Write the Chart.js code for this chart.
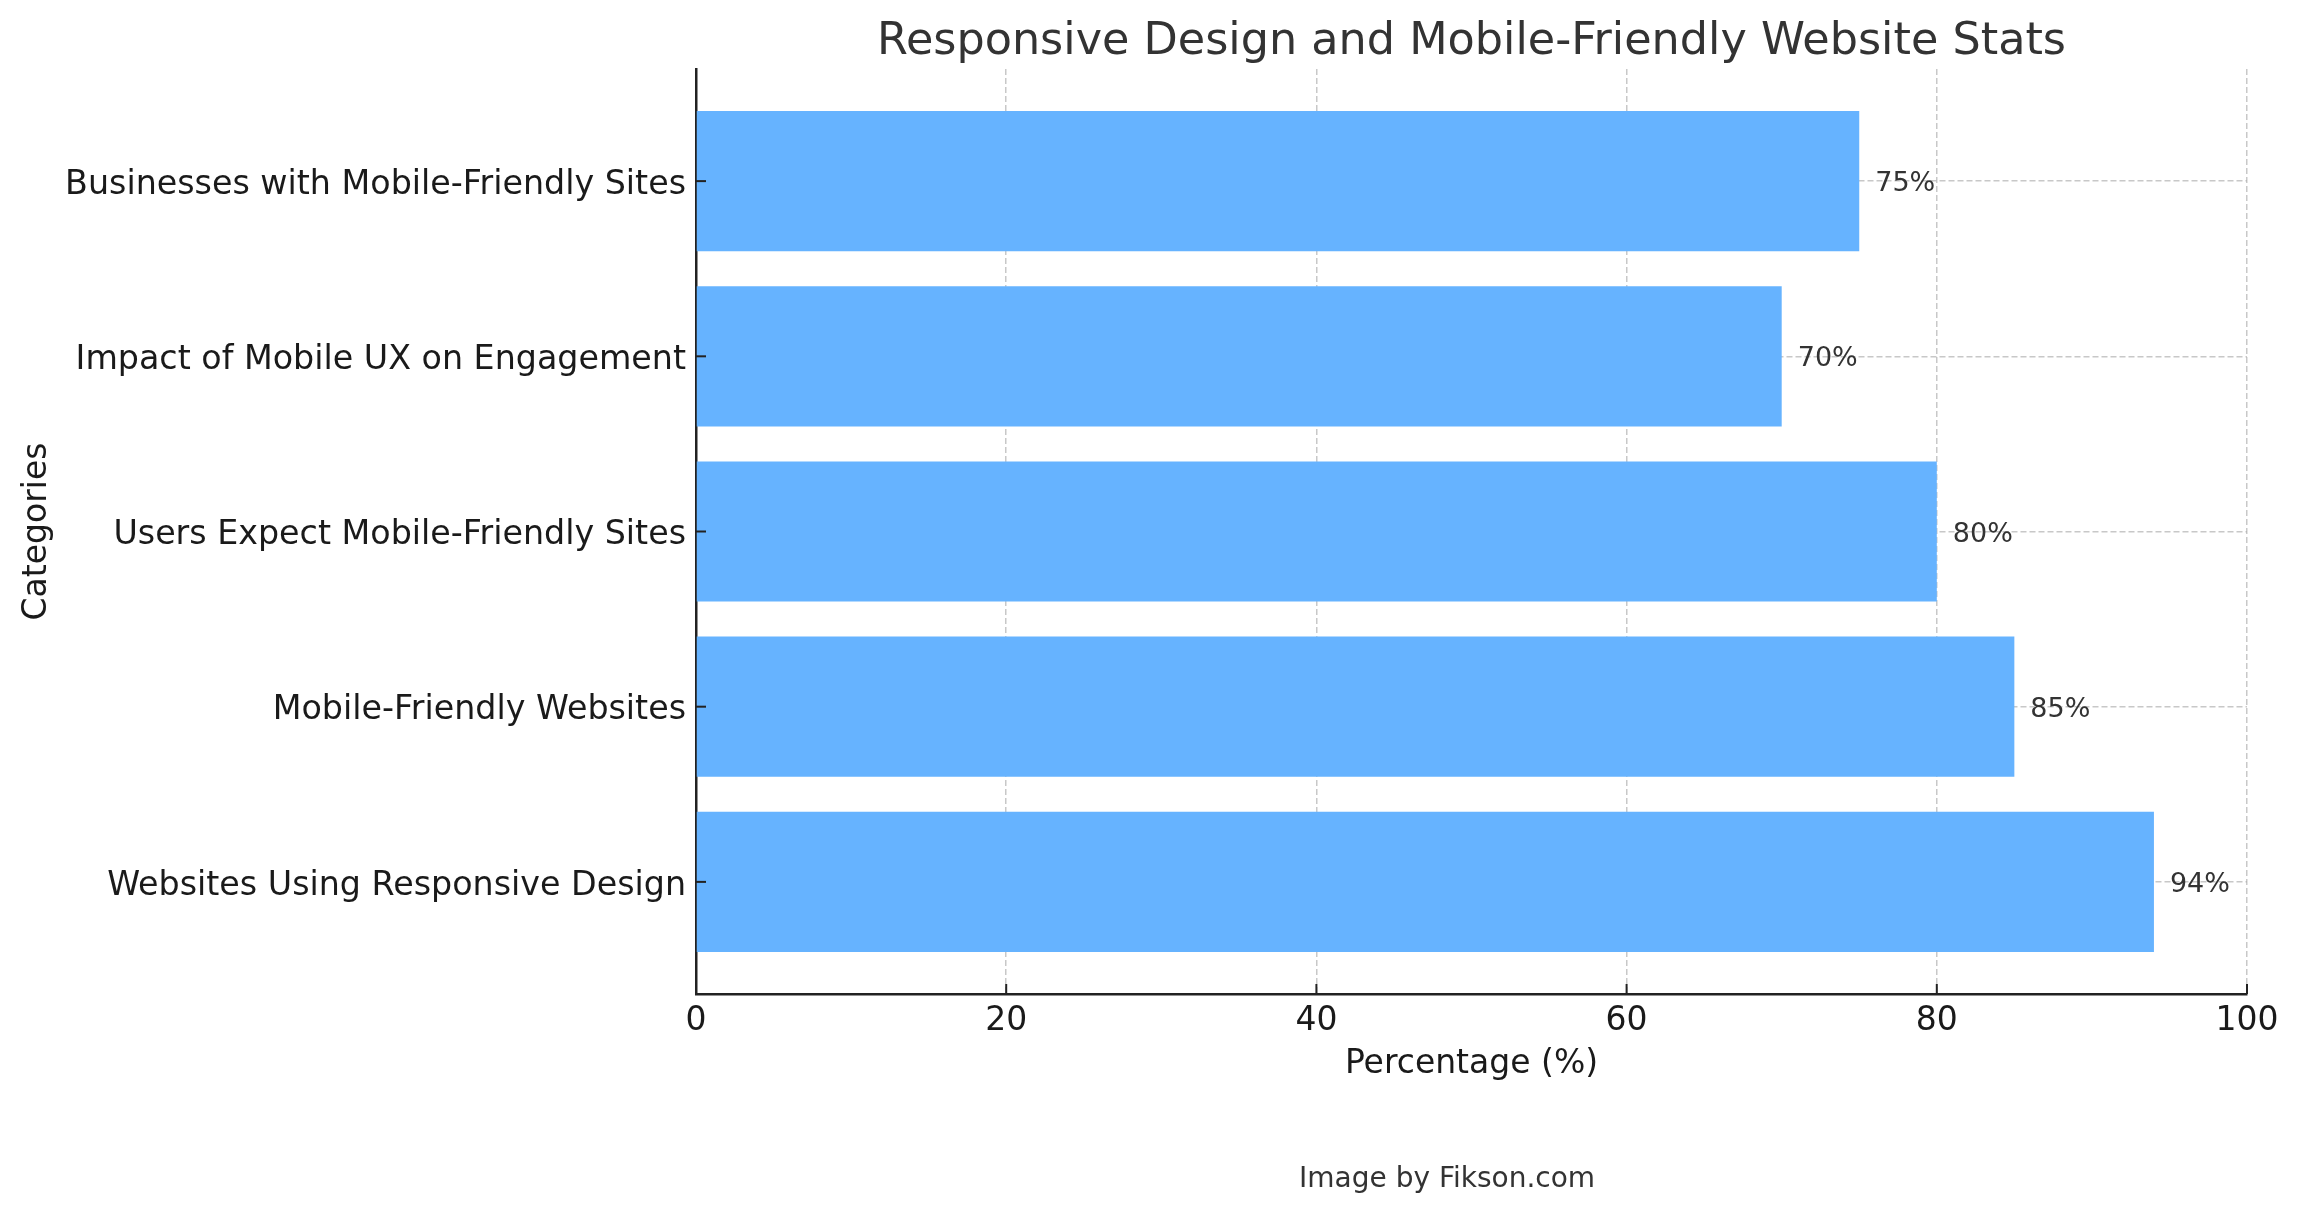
<!DOCTYPE html>
<html>
<head>
<meta charset="utf-8">
<script src="https://cdn.jsdelivr.net/npm/chart.js@4.4.0/dist/chart.umd.min.js"></script>
<style>
  body { margin: 0; background: #fff; }
  canvas { display: block; }
</style>
</head>
<body>
<canvas id="statsChart" width="2297" height="1212"></canvas>
<script>
// data, bottom to top as drawn
const categories = [
    'Websites Using Responsive Design',
    'Mobile-Friendly Websites',
    'Users Expect Mobile-Friendly Sites',
    'Impact of Mobile UX on Engagement',
    'Businesses with Mobile-Friendly Sites'
];
const percentages = [94, 85, 80, 70, 75];
const xTicks = [0, 20, 40, 60, 80, 100];

const FONT = "'DejaVu Sans', sans-serif";

// title, footer, value labels and inward tick marks
const extras = {
    id: 'extras',
    afterDatasetsDraw(chart) {
        const ctx = chart.ctx;
        const meta = chart.getDatasetMeta(0);
        ctx.save();
        ctx.font = '27px ' + FONT;
        ctx.fillStyle = '#333';
        ctx.textBaseline = 'middle';
        ctx.textAlign = 'left';
        meta.data.forEach((bar, i) => {
            ctx.fillText(percentages[i] + '%', bar.x + 16, bar.y + 3);
        });
        ctx.restore();
    },
    afterDraw(chart) {
        const ctx = chart.ctx;
        const area = chart.chartArea;
        const xs = chart.scales.x, ys = chart.scales.y;
        ctx.save();
        ctx.strokeStyle = '#222';
        ctx.lineWidth = 2;
        xTicks.forEach(v => {
            const px = xs.getPixelForValue(v);
            ctx.beginPath();
            ctx.moveTo(px, area.bottom);
            ctx.lineTo(px, area.bottom - 10);
            ctx.stroke();
        });
        categories.forEach((c, i) => {
            const py = ys.getPixelForValue(i);
            ctx.beginPath();
            ctx.moveTo(area.left, py);
            ctx.lineTo(area.left + 10, py);
            ctx.stroke();
        });

        ctx.fillStyle = '#333';
        ctx.textAlign = 'center';
        ctx.textBaseline = 'middle';
        ctx.font = '44.5px ' + FONT;
        ctx.fillText('Responsive Design and Mobile-Friendly Website Stats', (area.left + area.right) / 2, 42);
        ctx.font = '28px ' + FONT;
        ctx.fillText('Image by Fikson.com', chart.width * 0.63, 1180);
        ctx.restore();
    }
};

const ctx = document.getElementById('statsChart').getContext('2d');

new Chart(ctx, {
    type: 'bar',
    data: {
        datasets: [{
            data: percentages.map((v, i) => ({ x: v, y: i })),
            backgroundColor: '#66b3ff',
            borderWidth: 0,
            barPercentage: 0.8,
            categoryPercentage: 1
        }]
    },
    options: {
        indexAxis: 'y',
        responsive: false,
        animation: false,
        layout: { padding: { top: 69, right: 50, left: 0, bottom: 0 } },
        plugins: {
            legend: { display: false },
            tooltip: { enabled: false }
        },
        scales: {
            x: {
                type: 'linear',
                min: 0,
                max: 100,
                z: 1,
                afterFit: s => { s.height = 218; },
                afterBuildTicks: s => { s.ticks = xTicks.map(v => ({ value: v })); },
                ticks: { color: '#1a1a1a', font: { family: FONT, size: 33 }, padding: 8 },
                grid: { color: 'rgba(176,176,176,0.7)', lineWidth: 1.5, drawTicks: false },
                border: { color: '#222', width: 2.5, dash: [6, 3] },
                title: {
                    display: true,
                    text: 'Percentage (%)',
                    color: '#1a1a1a',
                    font: { family: FONT, size: 33 },
                    padding: { top: 0, bottom: 128 }
                }
            },
            y: {
                type: 'linear',
                min: -0.64,
                max: 4.64,
                offset: false,
                z: 1,
                afterFit: s => { s.width = 696; },
                afterBuildTicks: s => { s.ticks = categories.map((c, i) => ({ value: i })); },
                ticks: {
                    color: '#1a1a1a',
                    font: { family: FONT, size: 33.3 },
                    padding: 10,
                    labelOffset: 4,
                    callback: v => categories[v]
                },
                grid: { color: 'rgba(176,176,176,0.7)', lineWidth: 1.5, drawTicks: false, offset: false },
                border: { color: '#222', width: 2.5, dash: [6, 3] },
                title: {
                    display: true,
                    text: 'Categories',
                    color: '#1a1a1a',
                    font: { family: FONT, size: 33 },
                    padding: { top: 18, bottom: 0 }
                }
            }
        }
    },
    plugins: [extras]
});
</script>
</body>
</html>
